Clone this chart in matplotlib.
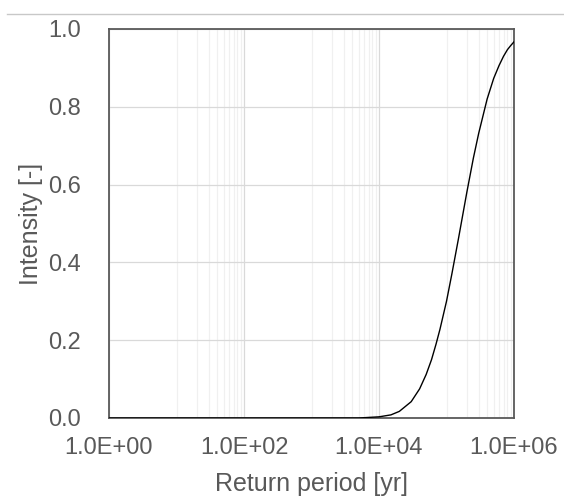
import numpy as np
import matplotlib
matplotlib.use("Agg")
import matplotlib.pyplot as plt
from matplotlib.ticker import FixedLocator, FuncFormatter, NullFormatter
from matplotlib.lines import Line2D

plt.rcParams['font.family'] = ['Liberation Sans', 'DejaVu Sans']

# intensity vs. return period
return_period = [1, 1e3, 5e3, 1e4, 1.5e4, 2e4, 3e4, 4e4, 5e4, 6e4, 7e4, 8e4,
                 1e5, 1.2e5, 1.5e5, 2e5, 2.5e5, 3e5, 4e5, 5e5, 6e5, 7e5,
                 8e5, 9e5, 1e6]
intensity = [0.0, 0.0, 0.0, 0.003, 0.008, 0.017, 0.042, 0.075, 0.112, 0.150,
             0.190, 0.228, 0.300, 0.370, 0.460, 0.580, 0.668, 0.732, 0.820,
             0.873, 0.906, 0.930, 0.947, 0.958, 0.967]

major_x = [1, 1e2, 1e4, 1e6]
minor_x = [m * 10.0 ** e for e in (1, 3, 5) for m in range(1, 10)]
y_ticks = [0.0, 0.2, 0.4, 0.6, 0.8, 1.0]

text_col = '#595959'

fig = plt.figure(figsize=(5.64, 5.0), dpi=100)
ax = fig.add_axes([109 / 564, 82 / 500, 405 / 564, 389 / 500])

ax.plot(return_period, intensity, color='black', lw=1.0, zorder=3)

ax.set_xscale('log')
ax.set_xlim(1, 1e6)
ax.set_ylim(0, 1)

ax.xaxis.set_major_locator(FixedLocator(major_x))
ax.xaxis.set_minor_locator(FixedLocator(minor_x))
ax.xaxis.set_minor_formatter(NullFormatter())
ax.xaxis.set_major_formatter(FuncFormatter(lambda v, p: f"{v:.1E}"))
ax.set_yticks(y_ticks)
ax.yaxis.set_major_formatter(FuncFormatter(lambda v, p: f"{v:.1f}"))

ax.grid(True, which='major', color='#d9d9d9', lw=0.9, zorder=0)
ax.grid(True, which='minor', axis='x', color='#f0f0f0', lw=0.9, zorder=0)
ax.set_axisbelow(True)

ax.tick_params(which='both', length=0)
ax.tick_params(axis='y', pad=20, labelsize=17, labelcolor=text_col)
ax.tick_params(axis='x', pad=14, labelsize=17, labelcolor=text_col)

for s in ax.spines.values():
    s.set_color('#595959')
    s.set_linewidth(1.3)

ax.set_xlabel('Return period [yr]', fontsize=18, color=text_col, labelpad=9)
ax.set_ylabel('Intensity [-]', fontsize=18, color=text_col, labelpad=4)

# thin rule across the top of the chart area
fig.add_artist(Line2D([7 / 564, 1.0], [1 - 14 / 500, 1 - 14 / 500],
                      color='#c8c8c8', lw=1.0, transform=fig.transFigure))

fig.savefig('out.png', dpi=100)
